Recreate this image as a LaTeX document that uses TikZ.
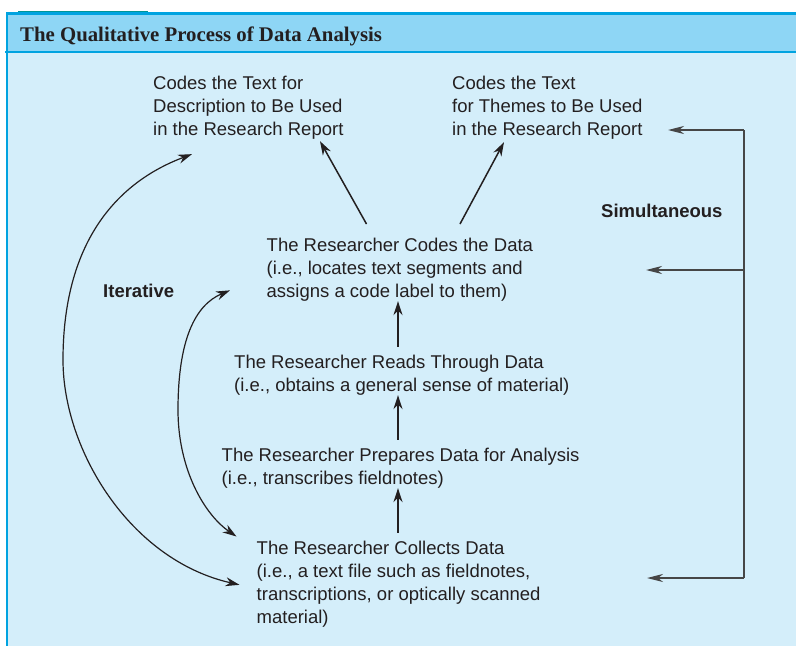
\documentclass[tikz,border=0pt]{standalone}
\usepackage{fontspec}
\setmainfont{Liberation Sans}
\newfontfamily\titlefont{Liberation Serif}
\usetikzlibrary{arrows.meta,calc}
\definecolor{headblue}{RGB}{142,214,245}
\definecolor{bodyblue}{RGB}{212,238,250}
\definecolor{lineblue}{RGB}{0,163,224}
\definecolor{tealbar}{RGB}{0,150,150}
\definecolor{inkgray}{RGB}{35,31,32}
\definecolor{railgray}{RGB}{70,70,70}
\tikzset{
  txt/.style={anchor=north west, inner sep=0pt, align=left, text=inkgray, font=\fontsize{18.5}{23}\selectfont},
  lbl/.style={anchor=base west, inner sep=0pt, text=inkgray, font=\fontsize{18.5}{23}\selectfont\bfseries},
  arr/.style={-{Stealth[length=14pt,width=9pt]}, line width=1.5pt, inkgray},
  uparr/.style={arr, line width=2pt, shorten <=8pt},
  curv/.style={{Stealth[length=14pt,width=9pt]}-{Stealth[length=14pt,width=9pt]}, line width=1.2pt, inkgray},
  rail/.style={line width=2pt, railgray},
  railarr/.style={rail, -{Stealth[length=16pt,width=8pt,inset=5pt]}},
}

\begin{document}
\begin{tikzpicture}[x=1pt,y=-1pt]
		%%%%% FRAME %%%%%
		\useasboundingbox (0,0) rectangle (796,646);
		\fill[white] (0,0) rectangle (796,646);
		\fill[bodyblue] (7,52) rectangle (796,646);
		\fill[headblue] (7,14) rectangle (796,52);
		\fill[tealbar] (18,10.5) rectangle (148,12.5);
		\draw[lineblue, line width=3pt] (7,13) -- (796,13);
		\draw[lineblue, line width=1.2pt] (5,52) -- (796,52);
		\draw[lineblue, line width=1.5pt] (7,12) -- (7,646);

		\node[anchor=base west, inner sep=0pt, text=inkgray, font=\titlefont\fontsize{20.8}{24}\selectfont\bfseries] (title) at (20,41.5) {The Qualitative Process of Data Analysis};

		%%%%% STEPS %%%%%
		\node[txt] (desc) at (153,75.5) {Codes the Text for\\Description to Be Used\\in the Research Report};
		\node[txt] (themes) at (452,75.5) {Codes the Text\\for Themes to Be Used\\in the Research Report};
		\node[txt] (codes) at (266.5,237.5) {The Researcher Codes the Data\\(i.e., locates text segments and\\assigns a code label to them)};
		\node[txt] (reads) at (234,354.5) {The Researcher Reads Through Data\\(i.e., obtains a general sense of material)};
		\node[txt] (prepare) at (221.5,447.5) {The Researcher Prepares Data for Analysis\\(i.e., transcribes fieldnotes)};
		\node[txt] (collect) at (256.5,540.5) {The Researcher Collects Data\\(i.e., a text file such as fieldnotes,\\transcriptions, or optically scanned\\material)};

		\node[lbl] (iter) at (103,297) {Iterative};
		\node[lbl] (simul) at (601,217) {Simultaneous};

		%%%%% ARROWS %%%%%
		\coordinate (spine) at (398,0);
		\draw[uparr] (collect.north -| spine) -- (prepare.south -| spine);
		\draw[uparr] (prepare.north -| spine) -- (reads.south -| spine);
		\draw[uparr] (reads.north -| spine) -- (codes.south -| spine);

		\draw[arr] ($(codes.north west)+(100,-13.5)$) -- ($(desc.south west)+(167,2)$);
		\draw[arr] ($(codes.north west)+(193.5,-13.5)$) -- ($(themes.south west)+(52,3)$);

		\draw[curv] ($(collect.west)+(-17,1)$) .. controls (130,560) and (63,450) .. (63,360)
			.. controls (63,250) and (110,185) .. ($(desc.south west)+(39,15)$);
		\draw[curv] ($(collect.north west)+(-20,-4)$) .. controls (205,515) and (178,470) .. (178,410)
			.. controls (178,340) and (195,305) .. ($(codes.west)+(-36.5,21)$);

		\coordinate (rail1) at (744,130);
		\coordinate (rail2) at (744,270);
		\coordinate (rail3) at (744,578);
		\draw[rail] (rail1) -- (rail3);
		\draw[railarr] (rail1) -- ++(-76,0);
		\draw[railarr] (rail2) -- ++(-98,0);
		\draw[railarr] (rail3) -- ++(-97,0);
		%%%%% END %%%%%
\end{tikzpicture}
\end{document}
